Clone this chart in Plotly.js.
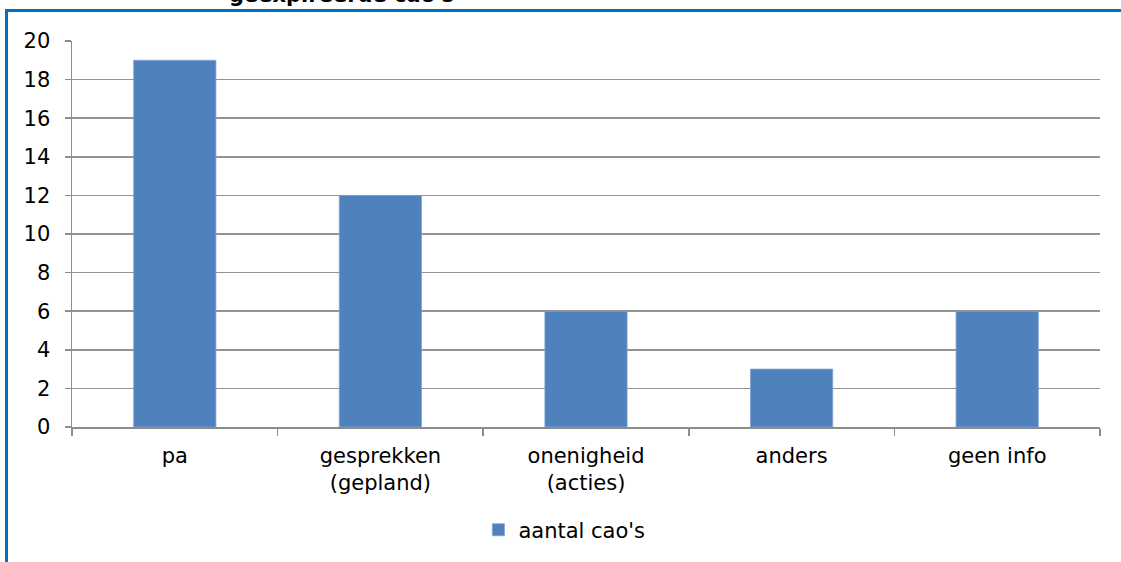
<!DOCTYPE html>
<html>
<head>
<meta charset="utf-8">
<script src="https://cdn.plot.ly/plotly-3.0.1.min.js"></script>
<style>
  html, body { margin: 0; padding: 0; background: #fff; overflow: hidden; }
  #chart { width: 1121px; height: 562px; position: relative; }
  #frame { position: absolute; left: 5px; top: 9px; width: 1300px; height: 800px;
           border-top: 3px solid #0070C0; border-left: 3px solid #0070C0;
           pointer-events: none; }
</style>
</head>
<body>
<div id="chart"></div>
<div id="frame"></div>
<script>
const categories = ["pa", "gesprekken<br>(gepland)", "onenigheid<br>(acties)", "anders", "geen info"];
const values = [19, 12, 6, 3, 6];
const seriesName = "aantal cao's";
const chartTitle = "geexpireerde cao's";
const yTicks = [0, 2, 4, 6, 8, 10, 12, 14, 16, 18, 20];

const font = "DejaVu Sans, Verdana, sans-serif";

const trace = {
  type: "bar",
  x: categories,
  y: values,
  name: seriesName,
  width: 0.4,
  marker: { color: "#4F81BD", line: { color: "#7FA3D3", width: 0.8 } },
  showlegend: true,
  hoverinfo: "x+y"
};

const layout = {
  width: 1121,
  height: 562,
  margin: { l: 72, r: 21, t: 41, b: 135 },
  paper_bgcolor: "#ffffff",
  plot_bgcolor: "#ffffff",
  font: { family: font, size: 21, color: "#000000" },
  showlegend: true,
  legend: {
    orientation: "h",
    x: 0.479, xanchor: "center",
    y: -0.267, yanchor: "middle",
    font: { family: font, size: 21, color: "#000000" },
    itemwidth: 30
  },
  xaxis: {
    type: "category",
    tickson: "boundaries",
    ticks: "outside",
    ticklen: 7,
    tickcolor: "#8c8c8c",
    tickwidth: 1.5,
    showline: true,
    linecolor: "#8c8c8c",
    linewidth: 1.5,
    showgrid: false,
    tickfont: { family: font, size: 21, color: "#000000" },
    ticklabelstandoff: 9,
    fixedrange: true
  },
  yaxis: {
    range: [0, 20],
    tickvals: yTicks,
    ticks: "outside",
    ticklen: 6,
    tickcolor: "#8c8c8c",
    tickwidth: 1.5,
    showline: true,
    linecolor: "#8c8c8c",
    linewidth: 1.5,
    showgrid: true,
    gridcolor: "#939393",
    gridwidth: 1.5,
    zeroline: false,
    tickfont: { family: font, size: 21, color: "#000000" },
    ticklabelstandoff: 10,
    fixedrange: true
  },
  annotations: [{
    text: "<b>" + chartTitle + "</b>",
    xref: "paper", yref: "paper",
    x: 0.262, xanchor: "center",
    y: 1.083, yanchor: "bottom",
    showarrow: false,
    font: { family: font, size: 21, color: "#000000" }
  }]
};

Plotly.newPlot("chart", [trace], layout, { displayModeBar: false, staticPlot: true });
</script>
</body>
</html>
